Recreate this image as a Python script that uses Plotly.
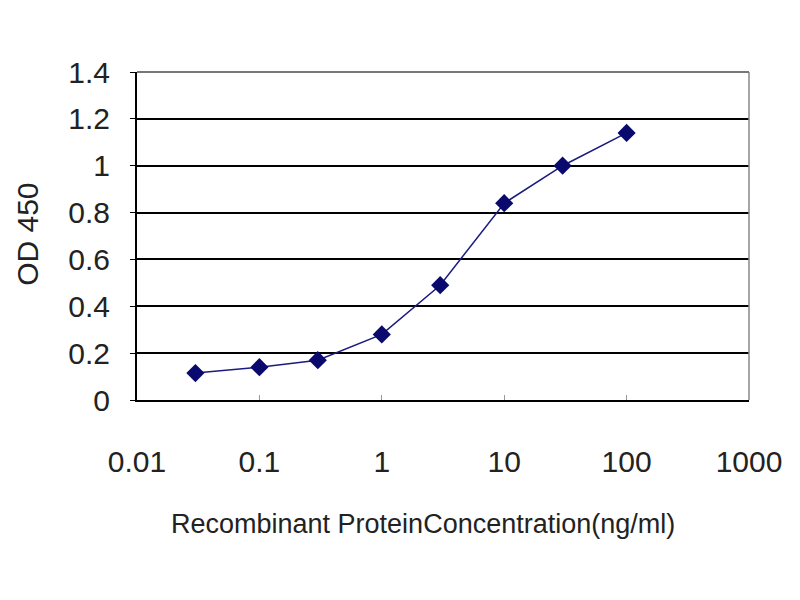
import plotly.graph_objects as go

concentration = [0.03, 0.1, 0.3, 1, 3, 10, 30, 100]
od450 = [0.115, 0.14, 0.17, 0.28, 0.49, 0.84, 1.0, 1.14]
x_ticks = [0.01, 0.1, 1, 10, 100, 1000]
x_tick_labels = ["0.01", "0.1", "1", "10", "100", "1000"]
y_ticks = [0, 0.2, 0.4, 0.6, 0.8, 1, 1.2, 1.4]
y_tick_labels = ["0", "0.2", "0.4", "0.6", "0.8", "1", "1.2", "1.4"]

FONT = "Liberation Sans, Arial, sans-serif"

fig = go.Figure()
fig.add_trace(go.Scatter(
    x=concentration, y=od450, mode="lines+markers",
    line=dict(color="#1a1a80", width=1.5),
    marker=dict(symbol="diamond", size=14, color="#0a0a6e"),
    showlegend=False,
))

fig.update_layout(
    width=800, height=600,
    margin=dict(l=129, r=59, t=64, b=208),
    paper_bgcolor="white", plot_bgcolor="white",
    font=dict(family=FONT, color="#222222"),
    xaxis=dict(
        type="log", range=[-2, 3],
        tickvals=x_ticks, ticktext=x_tick_labels,
        ticks="inside", ticklen=5, tickcolor="#999999",
        showgrid=False, zeroline=False,
        showline=True, linecolor="black", linewidth=2,
        mirror=False,
        tickfont=dict(size=30, family=FONT, color="#222222"),
        ticklabelstandoff=34,
    ),
    yaxis=dict(
        range=[0, 1.4],
        tickvals=y_ticks, ticktext=y_tick_labels,
        ticks="outside", ticklen=5, tickcolor="black",
        showgrid=True, gridcolor="black", gridwidth=2,
        zeroline=False,
        showline=True, linecolor="black", linewidth=2,
        tickfont=dict(size=30, family=FONT, color="#222222"),
        ticklabelstandoff=14,
    ),
    shapes=[
        dict(type="line", xref="paper", yref="paper", x0=1, x1=1, y0=0, y1=1,
             line=dict(color="#888888", width=1.5)),
        dict(type="line", xref="paper", yref="paper", x0=0, x1=1, y0=1, y1=1,
             line=dict(color="#777777", width=2)),
    ],
    annotations=[
        dict(text="Recombinant ProteinConcentration(ng/ml)", xref="paper", yref="paper",
             x=0.468, y=-0.378, xanchor="center", yanchor="middle", showarrow=False,
             font=dict(size=27, family=FONT, color="#222222")),
        dict(text="OD 450", xref="paper", yref="paper", textangle=-90,
             x=-0.18, y=0.506, xanchor="center", yanchor="middle", showarrow=False,
             font=dict(size=30, family=FONT, color="#222222")),
    ],
)

fig.write_html("out.html")
